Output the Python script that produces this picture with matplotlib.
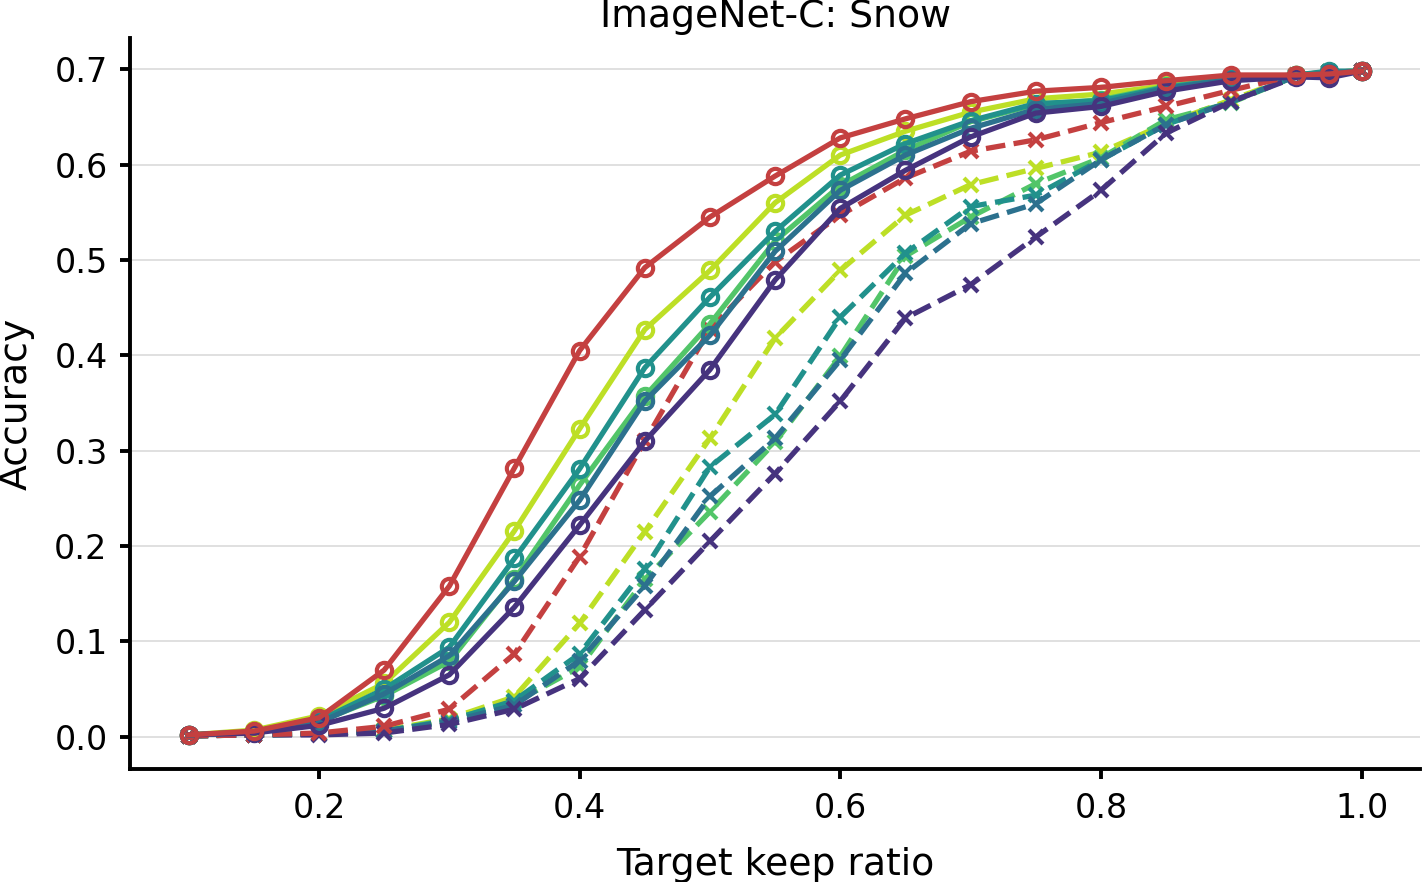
import numpy as np
import matplotlib
matplotlib.use("Agg")
import matplotlib.pyplot as plt

# keep ratios on x
ratio = [0.1, 0.15, 0.2, 0.25, 0.3, 0.35, 0.4, 0.45, 0.5, 0.55, 0.6,
         0.65, 0.7, 0.75, 0.8, 0.85, 0.9, 0.95, 0.975, 1.0]

# solid lines (circle markers)
yel_solid = [0.002, 0.007, 0.022, 0.056, 0.120, 0.216, 0.323, 0.427, 0.489, 0.560, 0.610,
             0.635, 0.655, 0.669, 0.674, 0.683, 0.690, 0.694, 0.697, 0.698]
grn_solid = [0.002, 0.005, 0.016, 0.043, 0.079, 0.165, 0.264, 0.357, 0.433, 0.520, 0.578,
             0.615, 0.645, 0.663, 0.668, 0.682, 0.690, 0.694, 0.697, 0.698]
teal_solid = [0.002, 0.005, 0.017, 0.050, 0.094, 0.187, 0.281, 0.387, 0.461, 0.530, 0.589,
              0.622, 0.646, 0.664, 0.667, 0.681, 0.690, 0.694, 0.698, 0.698]
blue_solid = [0.002, 0.005, 0.015, 0.045, 0.085, 0.163, 0.248, 0.352, 0.421, 0.509, 0.573,
              0.610, 0.638, 0.658, 0.664, 0.680, 0.689, 0.693, 0.696, 0.698]
purp_solid = [0.002, 0.004, 0.012, 0.030, 0.065, 0.136, 0.222, 0.310, 0.385, 0.479, 0.554,
              0.594, 0.629, 0.654, 0.661, 0.677, 0.688, 0.692, 0.691, 0.698]
red_solid = [0.002, 0.006, 0.020, 0.070, 0.158, 0.282, 0.405, 0.492, 0.545, 0.588, 0.628,
             0.648, 0.666, 0.677, 0.681, 0.688, 0.694, 0.694, 0.695, 0.698]

# dashed lines (x markers)
yel_dash = [0.001, 0.002, 0.003, 0.007, 0.019, 0.042, 0.119, 0.215, 0.313, 0.418, 0.489,
            0.547, 0.579, 0.596, 0.613, 0.643, 0.668, 0.693, 0.697, 0.698]
grn_dash = [0.001, 0.002, 0.003, 0.006, 0.018, 0.036, 0.073, 0.165, 0.236, 0.309, 0.399,
            0.504, 0.545, 0.580, 0.607, 0.647, 0.665, 0.693, 0.697, 0.698]
teal_dash = [0.001, 0.002, 0.003, 0.006, 0.017, 0.038, 0.087, 0.176, 0.283, 0.338, 0.440,
             0.507, 0.556, 0.568, 0.605, 0.642, 0.666, 0.693, 0.697, 0.698]
blue_dash = [0.001, 0.002, 0.003, 0.006, 0.016, 0.033, 0.080, 0.158, 0.252, 0.313, 0.395,
             0.486, 0.538, 0.559, 0.605, 0.642, 0.666, 0.693, 0.697, 0.698]
purp_dash = [0.001, 0.002, 0.002, 0.004, 0.013, 0.029, 0.061, 0.133, 0.205, 0.276, 0.352,
             0.439, 0.474, 0.524, 0.573, 0.633, 0.666, 0.692, 0.696, 0.698]
red_dash = [0.001, 0.002, 0.004, 0.011, 0.029, 0.087, 0.189, 0.310, 0.428, 0.498, 0.547,
            0.586, 0.614, 0.626, 0.644, 0.661, 0.678, 0.694, 0.696, 0.698]

colors = {"yel": "#bddf26", "grn": "#52c569", "teal": "#21918c",
          "blue": "#2c718e", "purp": "#46337e", "red": "#c44040"}

plt.rcParams["font.family"] = ["DejaVu Sans"]

fig = plt.figure(figsize=(7.12, 4.41), dpi=200)
ax = fig.add_axes([0.0913, 0.128, 0.906, 0.829])

dashed = [("yel", yel_dash), ("grn", grn_dash), ("teal", teal_dash),
          ("blue", blue_dash), ("purp", purp_dash), ("red", red_dash)]
solid = [("yel", yel_solid), ("grn", grn_solid), ("teal", teal_solid),
         ("blue", blue_solid), ("purp", purp_solid), ("red", red_solid)]

for key, vals in dashed:
    ax.plot(ratio, vals, color=colors[key], ls="--", lw=1.9,
            marker="x", ms=5, mew=1.5)
for key, vals in solid:
    ax.plot(ratio, vals, color=colors[key], ls="-", lw=1.9,
            marker="o", ms=5.5, mfc="none", mew=1.5)

ax.set_yticks([0.0, 0.1, 0.2, 0.3, 0.4, 0.5, 0.6, 0.7])
ax.set_xticks([0.2, 0.4, 0.6, 0.8, 1.0])
ax.grid(axis="y", color="#e0e0e0", lw=0.7)
ax.set_axisbelow(True)
for s in ["top", "right"]:
    ax.spines[s].set_visible(False)
for s in ["left", "bottom"]:
    ax.spines[s].set_linewidth(1.4)
ax.tick_params(labelsize=12, length=3.6, width=1.4, pad=4.5)
ax.set_xlabel("Target keep ratio", fontsize=13.6, labelpad=8)
ax.set_ylabel("Accuracy", fontsize=13.6, labelpad=7)
ax.set_title("ImageNet-C: Snow", fontsize=13.6, pad=4)

fig.savefig("out.png", dpi=200)
